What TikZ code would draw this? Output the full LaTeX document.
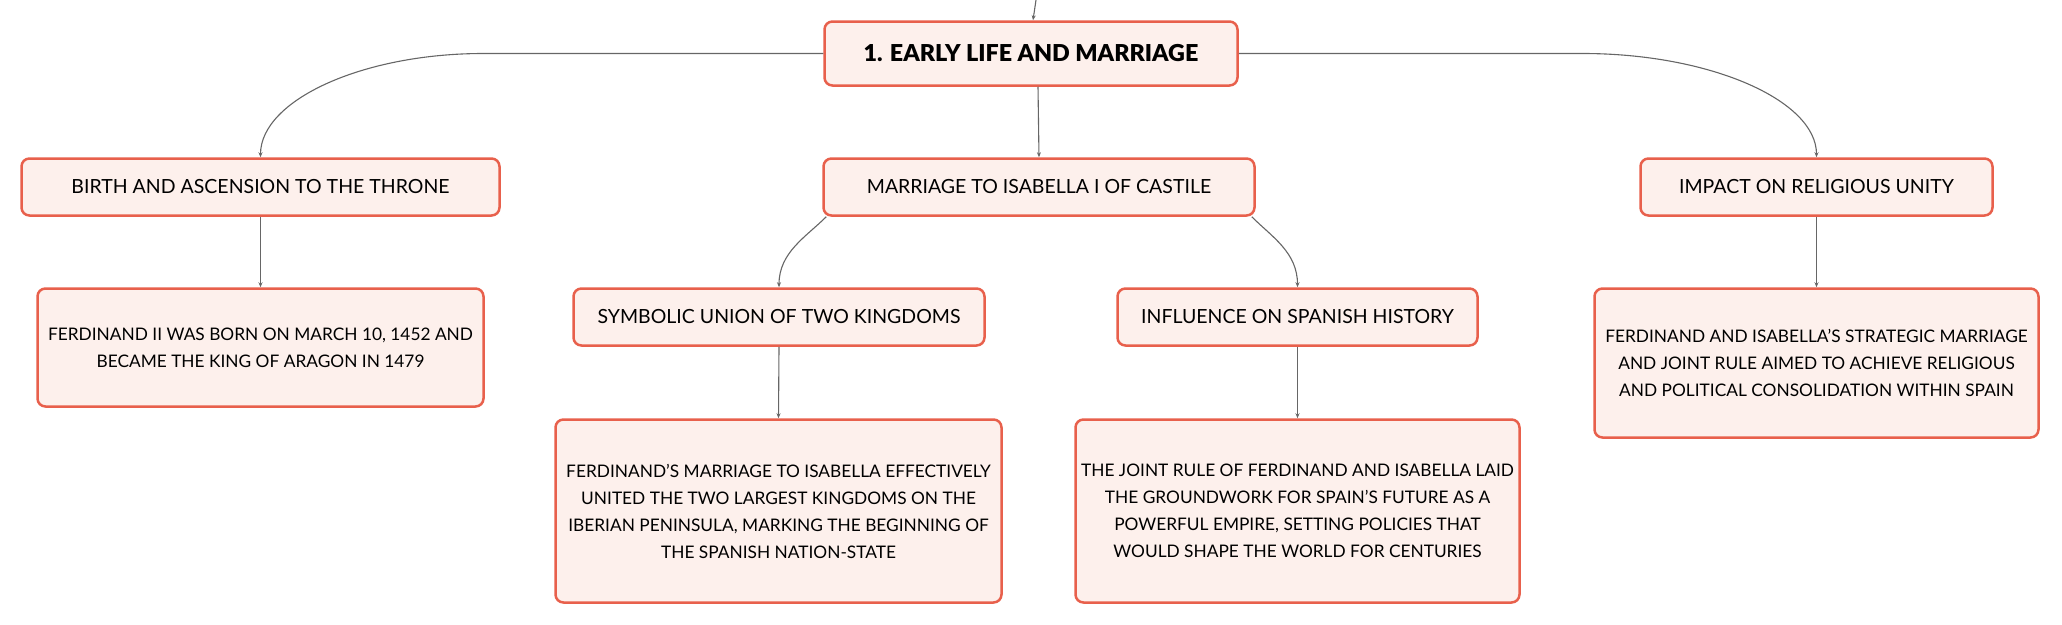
\documentclass[tikz,border=0pt]{standalone}
\usepackage{fontspec}
\setmainfont{Lato}
\newfontfamily\heavyfont{Lato Black}
\usetikzlibrary{arrows.meta}
\definecolor{boxline}{HTML}{E8604C}
\definecolor{boxfill}{HTML}{FDF0EC}
\definecolor{linkgray}{HTML}{666666}
\begin{document}
\begin{tikzpicture}[x=1pt,y=-1pt,
  >={Stealth[length=5pt,width=4pt]},
  box/.style={draw=boxline,fill=boxfill,line width=2.5pt,rounded corners=8pt,
    align=center,inner sep=0pt,font=\fontsize{19.5}{23}\selectfont},
  topbox/.style={box,font=\fontsize{23.3}{27}\selectfont\heavyfont},
  notebox/.style={box,font=\fontsize{17.3}{27}\selectfont},
  link/.style={->,draw=linkgray,line width=1.1pt}]
  \useasboundingbox (0,0) rectangle (2062,624);
  \coordinate (up) at (1036,0);
  \node (early) [topbox,minimum width=413pt,minimum height=64pt] at (1031,53.5) {1. EARLY LIFE AND MARRIAGE};
  \node (birth) [box,minimum width=478pt,minimum height=57pt] at (260.5,187) {BIRTH AND ASCENSION TO THE THRONE};
  \node (marriage) [box,minimum width=431pt,minimum height=57pt] at (1039,187) {MARRIAGE TO ISABELLA I OF CASTILE};
  \node (impact) [box,minimum width=352pt,minimum height=57pt] at (1816.5,187) {IMPACT ON RELIGIOUS UNITY};
  \node (born) [notebox,minimum width=446pt,minimum height=118pt] at (260.5,347.5) {FERDINAND II WAS BORN ON MARCH 10, 1452 AND\\BECAME THE KING OF ARAGON IN 1479};
  \node (union) [box,minimum width=411pt,minimum height=57pt] at (779,317) {SYMBOLIC UNION OF TWO KINGDOMS};
  \node (history) [box,minimum width=360pt,minimum height=57pt] at (1297.5,317) {INFLUENCE ON SPANISH HISTORY};
  \node (unity) [notebox,minimum width=444pt,minimum height=149pt] at (1816.5,363) {FERDINAND AND ISABELLA'S STRATEGIC MARRIAGE\\AND JOINT RULE AIMED TO ACHIEVE RELIGIOUS\\AND POLITICAL CONSOLIDATION WITHIN SPAIN};
  \node (unionnote) [notebox,minimum width=446pt,minimum height=183pt] at (778.5,511) {FERDINAND'S MARRIAGE TO ISABELLA EFFECTIVELY\\UNITED THE TWO LARGEST KINGDOMS ON THE\\IBERIAN PENINSULA, MARKING THE BEGINNING OF\\THE SPANISH NATION-STATE};
  \node (historynote) [notebox,minimum width=444pt,minimum height=183pt] at (1297.5,511) {THE JOINT RULE OF FERDINAND AND ISABELLA LAID\\THE GROUNDWORK FOR SPAIN'S FUTURE AS A\\POWERFUL EMPIRE, SETTING POLICIES THAT\\WOULD SHAPE THE WORLD FOR CENTURIES};
  \draw[link] (up) -- ([xshift=2pt]early.north);
  \draw[link] (early.west) -- ++(-340,0) .. controls +(-121,0) and +(0,-57) .. (birth.north);
  \draw[link] (early.east) -- ++(344,0) .. controls +(127,0) and +(0,-57) .. (impact.north);
  \draw[link] ([xshift=7pt]early.south) -- (marriage.north);
  \draw[link] ([xshift=4pt]marriage.south west) .. controls +(-20,20) and +(0,-35) .. (union.north);
  \draw[link] ([xshift=-4pt]marriage.south east) .. controls +(20,20) and +(0,-35) .. (history.north);
  \draw[link] (birth.south) -- (born.north);
  \draw[link] (impact.south) -- (unity.north);
  \draw[link] (union.south) -- (unionnote.north);
  \draw[link] (history.south) -- (historynote.north);
\end{tikzpicture}
\end{document}
